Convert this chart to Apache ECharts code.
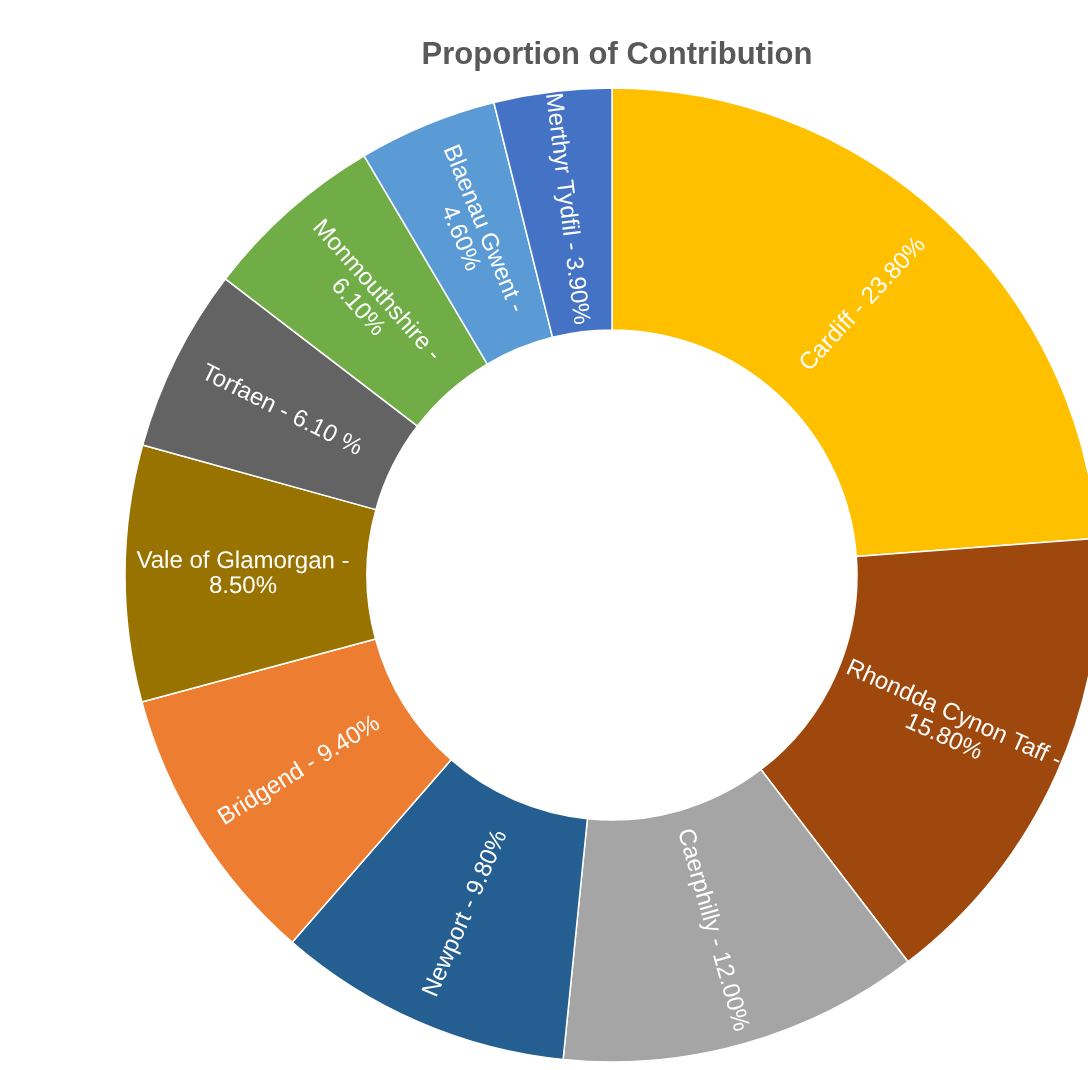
<!DOCTYPE html>
<html>
<head>
<meta charset="utf-8">
<script src="https://cdn.jsdelivr.net/npm/echarts@6/dist/echarts.min.js"></script>
<style>html,body{margin:0;padding:0;background:#fff;}#c{width:1088px;height:1070px;}</style>
</head>
<body>
<div id="c"></div>
<script>
const categories = ['Cardiff','Rhondda Cynon Taff','Caerphilly','Newport','Bridgend','Vale of Glamorgan','Torfaen','Monmouthshire','Blaenau Gwent','Merthyr Tydfil'];
const values = [23.8, 15.8, 12.0, 9.8, 9.4, 8.5, 6.1, 6.1, 4.6, 3.9];
const labelTexts = [
  'Cardiff - 23.80%',
  'Rhondda Cynon Taff -\n15.80%',
  'Caerphilly - 12.00%',
  'Newport - 9.80%',
  'Bridgend - 9.40%',
  'Vale of Glamorgan -\n8.50%',
  'Torfaen - 6.10 %',
  'Monmouthshire -\n6.10%',
  'Blaenau Gwent -\n4.60%',
  'Merthyr Tydfil - 3.90%'
];
const colors = ['#FFC000','#9E480E','#A5A5A5','#255E91','#ED7D31','#997300','#636363','#70AD47','#5B9BD5','#4472C4'];

const chart = echarts.init(document.getElementById('c'), null, {renderer:'canvas'});
chart.setOption({
  backgroundColor: '#ffffff',
  animation: false,
  title: {
    text: 'Proportion of Contribution',
    left: 612, top: 35, textAlign: 'center',
    textStyle: {fontFamily: 'Liberation Sans, Arial, sans-serif', fontSize: 31, fontWeight: 'bold', color: '#595959'}
  },
  series: [{
    type: 'pie',
    center: [612, 575],
    radius: [245, 487],
    startAngle: 90,
    clockwise: true,
    avoidLabelOverlap: false,
    itemStyle: {borderColor: '#ffffff', borderWidth: 1.5},
    label: {
      show: true,
      position: 'inside',
      rotate: 'radial',
      color: '#ffffff',
      fontFamily: 'Liberation Sans, Arial, sans-serif',
      fontSize: 24,
      lineHeight: 25,
      align: 'center',
      formatter: p => labelTexts[p.dataIndex]
    },
    labelLine: {show: false},
    emphasis: {disabled: true},
    data: categories.map((n, i) => ({name: n, value: values[i], itemStyle: {color: colors[i]}}))
  }]
});
</script>
</body>
</html>
